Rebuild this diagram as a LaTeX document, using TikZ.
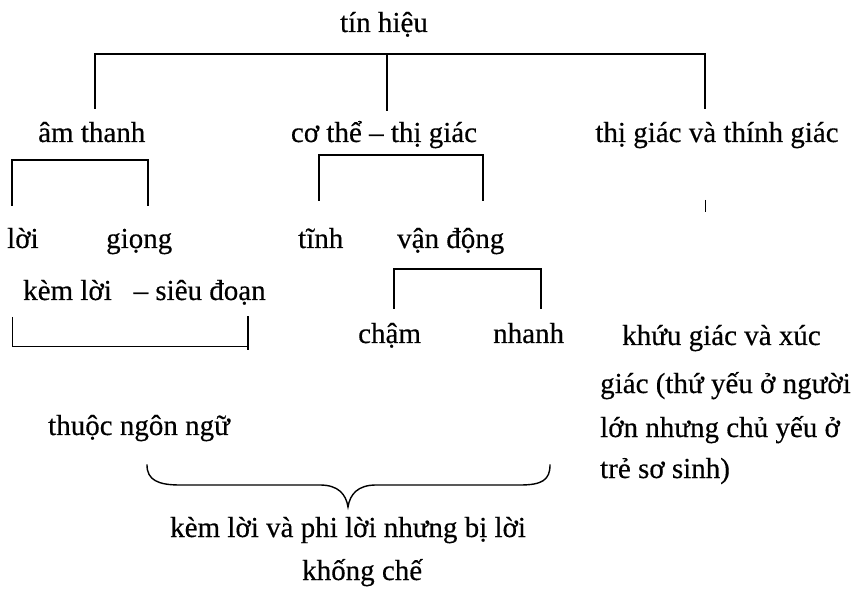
\documentclass[tikz,border=0pt]{standalone}
\usepackage{fontspec}
\setmainfont{Liberation Serif}[FakeBold=0.4]
\begin{document}
\begin{tikzpicture}[x=1pt,y=-1pt,
  lbl/.style={anchor=base,inner sep=0pt,font=\fontsize{29}{35}\selectfont},
  lbll/.style={anchor=base west,inner sep=0pt,font=\fontsize{29}{35}\selectfont},
  ln/.style={line width=1.4pt,line cap=rect},
  thin/.style={line width=1pt}]
\useasboundingbox (0,0) rectangle (862,593);
% texts
\node[lbl] (tin) at (384,32) {tín hiệu};
\node[lbll] (am) at (38,142) {âm thanh};
\node[lbl] (co) at (384,142) {cơ thể – thị giác};
\node[lbl] (thi) at (717,142) {thị giác và thính giác};
\node[lbll] (loi) at (7,248) {lời};
\node[lbll] (giong) at (106,248) {giọng};
\node[lbll] (tinh) at (298,248) {tĩnh};
\node[lbll] (van) at (397,248) {vận động};
\node[lbll] (kem) at (23,300) {kèm lời \enspace– siêu đoạn};
\node[lbll] (cham) at (358,343) {chậm};
\node[lbll] (nhanh) at (493,343) {nhanh};
\node[lbll] (khuu) at (622,345) {khứu giác và xúc};
\node[lbll] (giac) at (600,393) {giác (thứ yếu ở người};
\node[lbll] (thuoc) at (48,435) {thuộc ngôn ngữ};
\node[lbll] (lon) at (600,437) {lớn nhưng chủ yếu ở};
\node[lbll] (tre) at (600,478) {trẻ sơ sinh)};
\node[lbll] (kemphi) at (170,537) {kèm lời và phi lời nhưng bị lời};
\node[lbll] (khong) at (302,580) {khống chế};
% top bracket
\coordinate (t1) at (95,54);
\coordinate (t2) at (387,54);
\coordinate (t3) at (705,54);
\draw[ln] (95,108) -- (t1) -- (t3) -- (705,108);
\draw[ln] (t2) -- (387,110);
% bracket under am thanh
\draw[ln] (12,205) -- (12,160) -- (148,160) -- (148,205);
% bracket under co the
\draw[ln] (319,200) -- (319,155) -- (483,155) -- (483,200);
% bracket under van dong
\draw[ln] (394,308) -- (394,269) -- (541,269) -- (541,308);
% open-top bracket under kem loi
\draw[thin] (12,317) -- (12,347) -- (248,347);
\draw[ln] (248,317) -- (248,349);
% small tick
\draw[thin] (705,200) -- (705,212);
% brace
\coordinate (bl) at (147,465);
\coordinate (br) at (550,465);
\coordinate (tip) at (348,507);
\draw[ln] (bl) .. controls (147,480) and (158,485) .. (180,485)
  -- (320,485) .. controls (338,485) and (346,494) .. (tip)
  .. controls (350,494) and (358,485) .. (376,485)
  -- (520,485) .. controls (542,485) and (550,480) .. (br);
\end{tikzpicture}
\end{document}
